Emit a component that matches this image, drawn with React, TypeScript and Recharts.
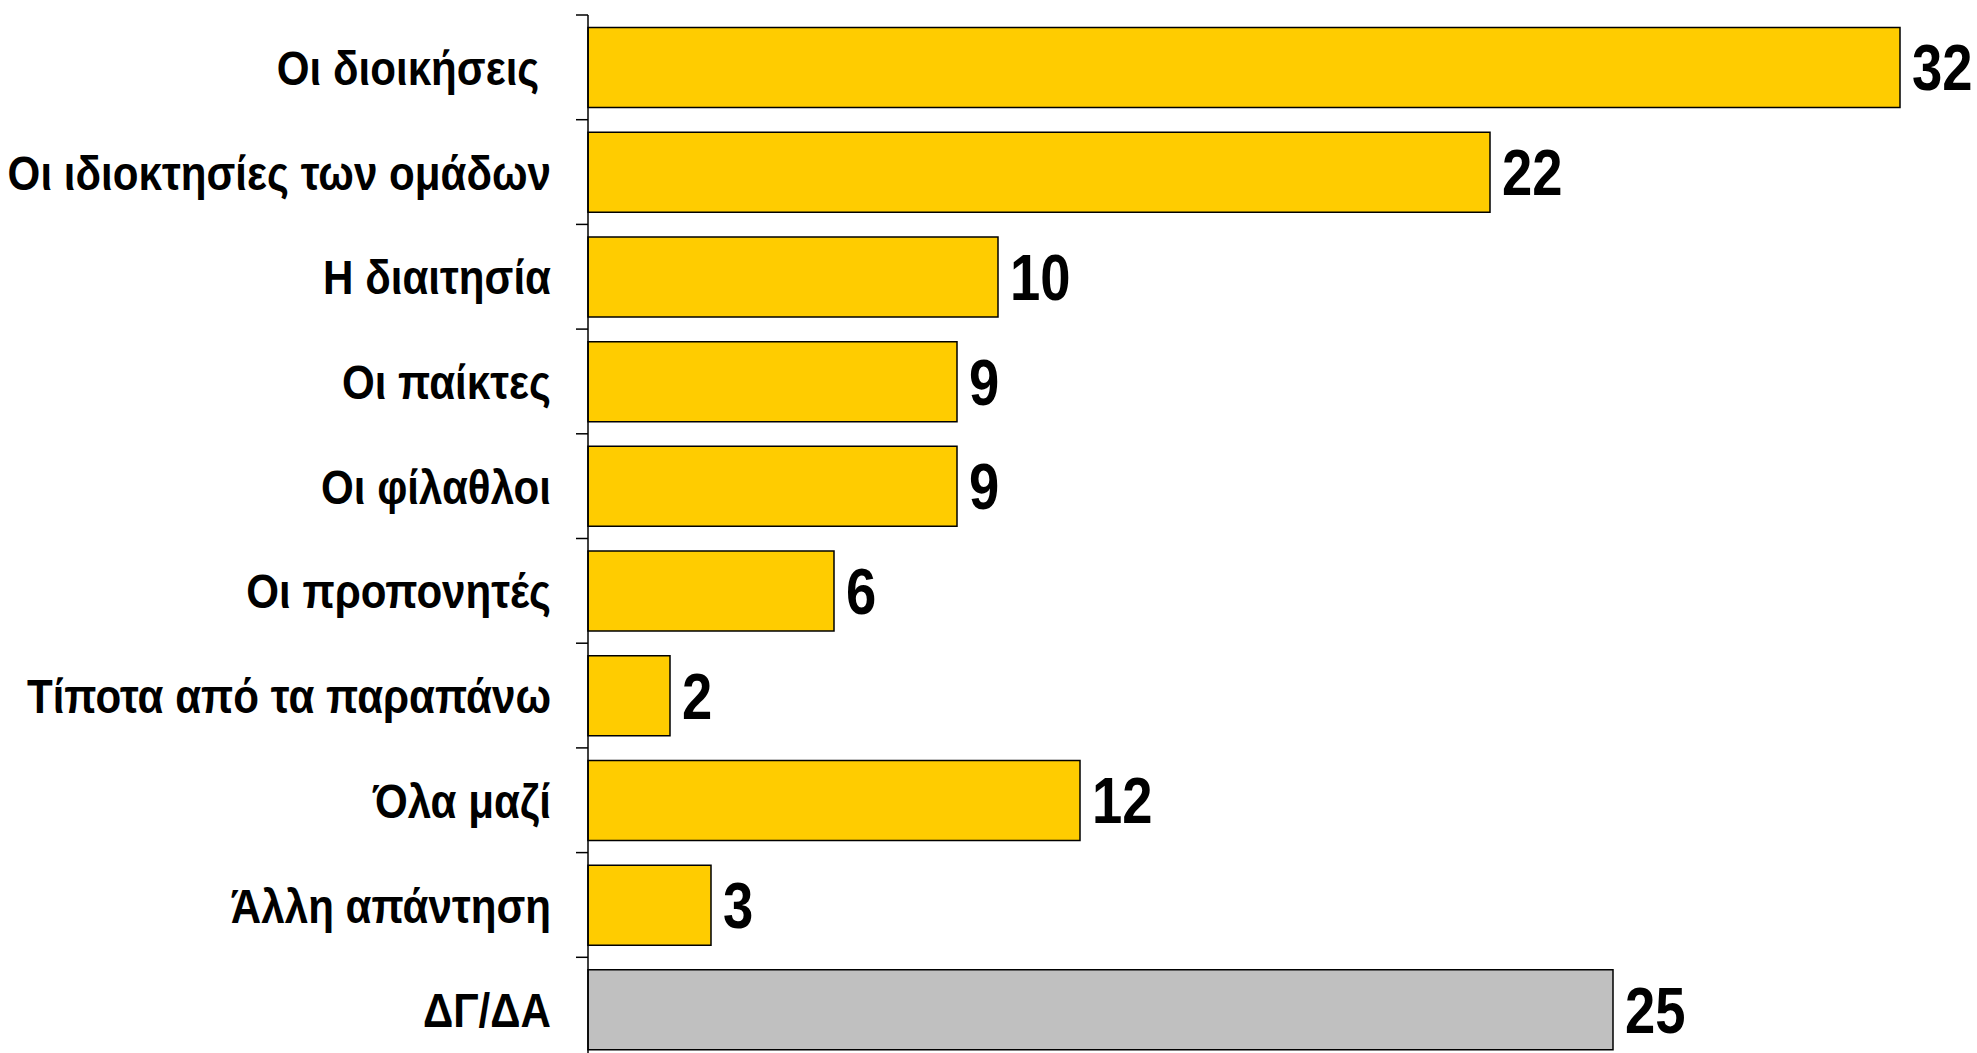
import React from "react";
import { BarChart, Bar, XAxis, YAxis, Cell, LabelList } from "recharts";

const categories = [
  "Οι διοικήσεις ",
  "Οι ιδιοκτησίες των ομάδων",
  "Η διαιτησία",
  "Οι παίκτες",
  "Οι φίλαθλοι",
  "Οι προπονητές",
  "Τίποτα από τα παραπάνω",
  "Όλα μαζί",
  "Άλλη απάντηση",
  "ΔΓ/ΔΑ",
];
const values = [32, 22, 10, 9, 9, 6, 2, 12, 3, 25];
const colors = ["#FFCC00", "#FFCC00", "#FFCC00", "#FFCC00", "#FFCC00", "#FFCC00", "#FFCC00", "#FFCC00", "#FFCC00", "#C0C0C0"];

const data = categories.map((name, i) => ({ name, value: values[i], color: colors[i] }));

const W = 1977;
const H = 1062;
const margin = { top: 15, right: 36, bottom: 0, left: 0 };
const band = (H - margin.top - margin.bottom) / categories.length;
const FONT = "'Liberation Sans', Arial, sans-serif";
const CAT_SIZE = 49;
const CAT_SX = 0.86;
const VAL_SIZE = 64;
const VAL_SX = 0.85;

const CatTick = (props: any) => {
  const { x, y, payload } = props;
  const axisX = x + 25 + 12;
  return (
    <g>
      <line x1={axisX - 12} x2={axisX} y1={y - band / 2} y2={y - band / 2} stroke="#000" strokeWidth={1.5} />
      <g transform={`translate(${x},${y}) scale(${CAT_SX},1)`}>
        <text
          x={0}
          y={CAT_SIZE * 0.358}
          textAnchor="end"
          fontFamily={FONT}
          fontWeight="bold"
          fontSize={CAT_SIZE}
          fill="#000"
          xmlSpace="preserve"
          style={{ whiteSpace: "pre" }}
        >
          {payload.value}
        </text>
      </g>
    </g>
  );
};

const ValueLabel = (props: any) => {
  const { x, y, width, height, value } = props;
  const tx = Number(x) + Number(width) + 12;
  const ty = Number(y) + Number(height) / 2;
  return (
    <g transform={`translate(${tx},${ty}) scale(${VAL_SX},1)`}>
      <text x={0} y={VAL_SIZE * 0.358} textAnchor="start" fontFamily={FONT} fontWeight="bold" fontSize={VAL_SIZE} fill="#000">
        {value}
      </text>
    </g>
  );
};

export default function App() {
  return (
    <div style={{ position: "absolute", left: 0, top: 0, width: W, height: 1053, overflow: "hidden", background: "#fff" }}>
      <BarChart width={W} height={H} data={data} layout="vertical" margin={margin} barCategoryGap="12%">
        <XAxis type="number" domain={[0, 33]} hide />
        <YAxis
          type="category"
          dataKey="name"
          width={588}
          axisLine={{ stroke: "#000", strokeWidth: 1.5 }}
          tickLine={false}
          tickSize={12}
          tickMargin={25}
          tick={<CatTick />}
          interval={0}
        />
        <Bar dataKey="value" stroke="#000" strokeWidth={1.5} isAnimationActive={false}>
          {data.map((d, i) => (
            <Cell key={i} fill={d.color} />
          ))}
          <LabelList dataKey="value" content={<ValueLabel />} />
        </Bar>
      </BarChart>
    </div>
  );
}
